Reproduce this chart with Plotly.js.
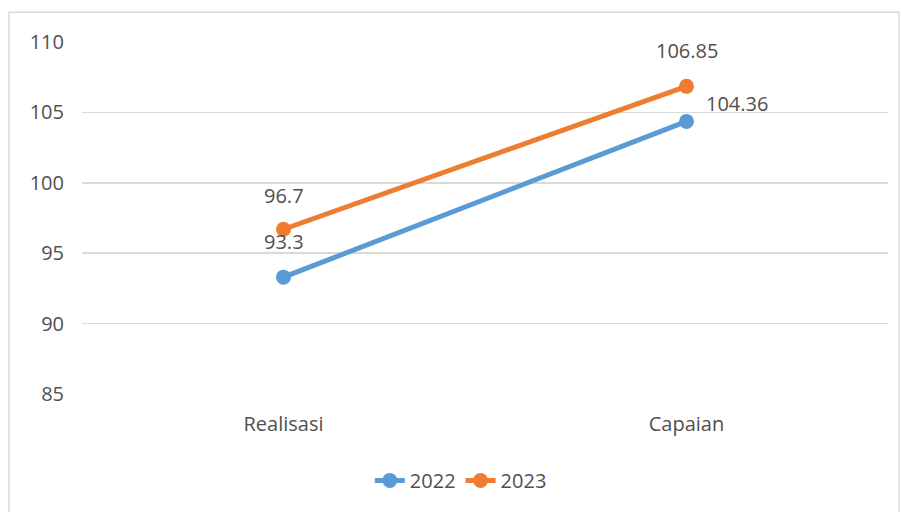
<!DOCTYPE html>
<html><head><meta charset="utf-8">
<script src="https://cdn.plot.ly/plotly-3.0.1.min.js"></script>
<style>html,body{margin:0;padding:0;background:#fff}#chart{width:902px;height:512px}</style>
</head><body><div id="chart"></div>
<script>
const categories = ["Realisasi", "Capaian"];
const values2022 = [93.3, 104.36];
const values2023 = [96.7, 106.85];
const labels2022 = ["93.3", "104.36"];
const labels2023 = ["96.7", "106.85"];
const yTicks = [85, 90, 95, 100, 105, 110];

const font = {family: "'Open Sans', sans-serif", size: 20, color: "#505050"};
const traces = [
  {x: categories, y: values2022, name: "2022", type: "scatter", mode: "lines+markers",
   line: {color: "#5B9BD5", width: 5}, marker: {color: "#5B9BD5", size: 15}, cliponaxis: false},
  {x: categories, y: values2023, name: "2023", type: "scatter", mode: "lines+markers",
   line: {color: "#ED7D31", width: 5}, marker: {color: "#ED7D31", size: 15}, cliponaxis: false}
];
// label offsets (pixels) relative to each point
const offs2022 = [[0, 36], [50, 18]];
const offs2023 = [[0, 34], [0, 36]];
const annotations = [];
categories.forEach((c, i) => {
  annotations.push({x: c, y: values2022[i], xref: "x", yref: "y", text: labels2022[i], showarrow: false,
    xshift: offs2022[i][0], yshift: offs2022[i][1], font: font});
  annotations.push({x: c, y: values2023[i], xref: "x", yref: "y", text: labels2023[i], showarrow: false,
    xshift: offs2023[i][0], yshift: offs2023[i][1], font: font});
});
const layout = {
  width: 902, height: 512,
  margin: {l: 82, r: 14, t: 42, b: 116},
  paper_bgcolor: "#fff", plot_bgcolor: "#fff",
  font: font,
  showlegend: true,
  legend: {orientation: "h", x: 0.47, xanchor: "center", y: -0.19, yanchor: "top", font: font},
  annotations: annotations,
  xaxis: {type: "category", range: [-0.5, 1.5], showgrid: false, zeroline: false, showline: false,
          ticks: "", tickfont: font, ticklabelstandoff: 16},
  yaxis: {range: [85, 110], tickvals: yTicks, showgrid: true, gridcolor: "#D9D9D9", gridwidth: 1.5,
          zeroline: false, showline: false, ticks: "", tickfont: font, ticklabelstandoff: 17},
  shapes: [{type: "rect", xref: "paper", yref: "paper", x0: -0.0906, x1: 1.0136, y0: -0.4, y1: 1.0847,
            line: {color: "#D9D9D9", width: 1.5}, fillcolor: "rgba(0,0,0,0)", layer: "below"}]
};
Plotly.newPlot("chart", traces, layout, {displayModeBar: false, staticPlot: true});
</script></body></html>
